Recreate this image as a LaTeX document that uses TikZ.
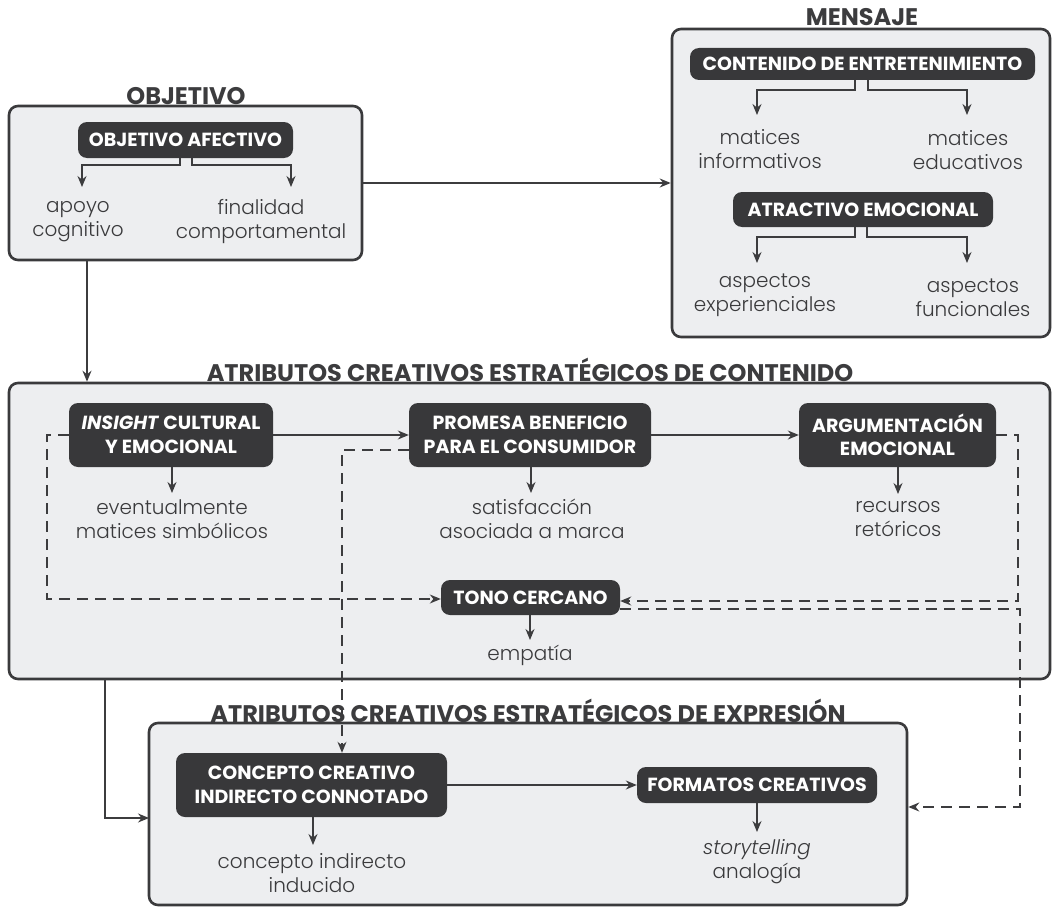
\documentclass[tikz,border=0pt]{standalone}
\usepackage{fontspec}
\setmainfont{Poppins}
\newfontfamily\lightfont{Poppins Light}
\usetikzlibrary{arrows.meta}
\definecolor{frame}{HTML}{3A3A3C}
\definecolor{panel}{HTML}{EDEEF0}
\definecolor{pill}{HTML}{38383A}
\definecolor{ink}{HTML}{3C3C3E}
\definecolor{soft}{HTML}{3A3A3C}
\begin{document}
\begin{tikzpicture}[x=1pt,y=-1pt,
  panelbox/.style={draw=frame, fill=panel, line width=2.6pt, rounded corners=9pt, inner sep=0pt},
  pillbox/.style={fill=pill, rounded corners=9pt, text=white, font=\bfseries\fontsize{19}{23.5}\selectfont, align=center, inner sep=0pt},
  paneltitle/.style={font=\bfseries\fontsize{24}{26}\selectfont, text=ink, anchor=base, inner sep=0pt},
  item/.style={font=\lightfont\fontsize{20}{24}\selectfont, text=soft, align=center, inner sep=0pt},
  link/.style={draw=ink, line width=1.4pt, -{Stealth[length=11pt,width=9pt]}},
  dlink/.style={link, dash pattern=on 11pt off 7pt},
]
\fill[white] (0,0) rectangle (1053,907);
\useasboundingbox (0,0) rectangle (1053,907);

% panels
\node[panelbox, minimum width=353pt, minimum height=154pt] (obj) at (185.5,183) {};
\node[panelbox, minimum width=378pt, minimum height=308pt] (men) at (861,183) {};
\node[panelbox, minimum width=1041pt, minimum height=296pt] (con) at (529.5,531) {};
\node[panelbox, minimum width=758pt, minimum height=182pt] (exp) at (528,814) {};

% panel titles
\node[paneltitle] (tobj) at (186,105) {OBJETIVO};
\node[paneltitle] (tmen) at (862,26) {MENSAJE};
\node[paneltitle] (tcon) at (530,381) {ATRIBUTOS CREATIVOS ESTRATÉGICOS DE CONTENIDO};
\node[paneltitle] (texp) at (528,722) {ATRIBUTOS CREATIVOS ESTRATÉGICOS DE EXPRESIÓN};

% pills
\node[pillbox, minimum width=215pt, minimum height=36pt] (oa) at (185.5,140) {OBJETIVO AFECTIVO};
\node[pillbox, minimum width=345pt, minimum height=32pt] (ce) at (862.5,64) {CONTENIDO DE ENTRETENIMIENTO};
\node[pillbox, minimum width=260pt, minimum height=35pt] (ae) at (863,209.5) {ATRACTIVO EMOCIONAL};
\node[pillbox, minimum width=204pt, minimum height=64pt] (ins) at (171,435) {\textit{INSIGHT} CULTURAL\\Y EMOCIONAL};
\node[pillbox, minimum width=242pt, minimum height=64pt] (pro) at (530,435) {PROMESA BENEFICIO\\PARA EL CONSUMIDOR};
\node[pillbox, minimum width=197pt, minimum height=64pt] (arg) at (897.5,435) {ARGUMENTACIÓN\\EMOCIONAL};
\node[pillbox, minimum width=179pt, minimum height=35pt] (ton) at (530.5,597.5) {TONO CERCANO};
\node[pillbox, minimum width=271pt, minimum height=64pt] (cc) at (311.5,785) {CONCEPTO CREATIVO\\INDIRECTO CONNOTADO};
\node[pillbox, minimum width=240pt, minimum height=36pt] (fc) at (757,785) {FORMATOS CREATIVOS};

% items
\node[item] (i1) at (78,222) {apoyo\\cognitivo};
\node[item] (i2) at (261,222) {finalidad\\comportamental};
\node[item] (i3) at (760,149) {matices\\informativos};
\node[item] (i4) at (968,150) {matices\\educativos};
\node[item] (i5) at (765,295) {aspectos\\experienciales};
\node[item] (i6) at (973,298) {aspectos\\funcionales};
\node[item] (i7) at (172,519) {eventualmente\\matices simbólicos};
\node[item] (i8) at (532,519) {satisfacción\\asociada a marca};
\node[item] (i9) at (898,519) {recursos\\retóricos};
\node[item] (i10) at (530,655) {empatía};
\node[item] (i11) at (312,873) {concepto indirecto\\inducido};
\node[item] (i12) at (757,862) {\textit{storytelling}\\analogía};

% arrow tip coordinates
\coordinate (oaL) at (82,187);  \coordinate (oaR) at (291,187);
\coordinate (ceL) at (757,115); \coordinate (ceR) at (967,115);
\coordinate (aeL) at (757,263); \coordinate (aeR) at (967,263);
\coordinate (insD) at (172,493); \coordinate (proD) at (531,493);
\coordinate (argD) at (898,494); \coordinate (tonD) at (530,640);
\coordinate (ccD) at (313,845);  \coordinate (fcD) at (757,832);
\coordinate (objD) at (87,260);
\coordinate (conD) at (105,679); \coordinate (expIn) at (149,818);
\coordinate (dA) at (47,599);
\coordinate (dB) at (342,450);
\coordinate (dC) at (1018,601);
\coordinate (dD1) at (1020,609); \coordinate (dD2) at (1020,807);

% branching arrows
\draw[link] (oa.south -| 180,0) -- (180,165) -| (oaL);
\draw[link] (oa.south -| 192,0) -- (192,165) -| (oaR);
\draw[link] (ce.south -| 855,0) -- (855,90) -| (ceL);
\draw[link] (ce.south -| 868,0) -- (868,90) -| (ceR);
\draw[link] (ae.south -| 855,0) -- (855,237) -| (aeL);
\draw[link] (ae.south -| 867,0) -- (867,237) -| (aeR);

% single down arrows
\draw[link] (ins.south -| insD) -- (insD);
\draw[link] (pro.south -| proD) -- (proD);
\draw[link] (arg.south -| argD) -- (argD);
\draw[link] (ton.south -| tonD) -- (tonD);
\draw[link] (cc.south -| ccD) -- (ccD);
\draw[link] (fc.south -| fcD) -- (fcD);

% solid flows
\draw[link] (obj.east) -- (men.west);
\draw[link] (objD) -- (objD |- con.north);
\draw[link] (ins.east) -- (pro.west);
\draw[link] (pro.east) -- (pro.east -| arg.west);
\draw[link] (conD) |- (expIn);
\draw[link] (cc.east) -- (cc.east -| fc.west);

% dashed flows
\draw[dlink] (ins.west) -| (dA) -- (dA -| ton.west);
\draw[dlink] (dB -| pro.west) -- (dB) -- (dB |- cc.north);
\draw[dlink] (arg.east) -| (dC) -- (dC -| ton.east);
\draw[dlink] (dD1 -| ton.east) -- (dD1) -- (dD2) -- (dD2 -| exp.east);
\end{tikzpicture}
\end{document}
